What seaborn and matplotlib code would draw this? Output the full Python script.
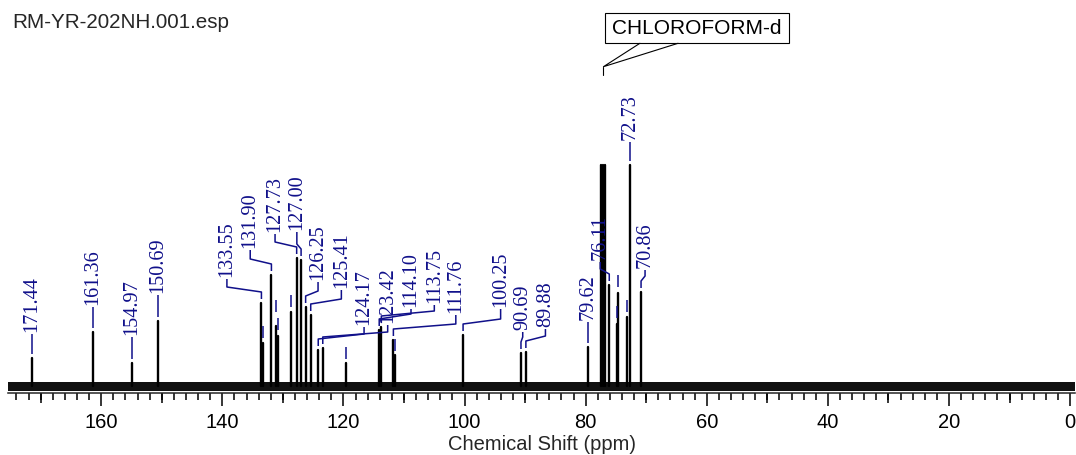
#!/usr/bin/env python3
"""13C NMR spectrum with peak labels (RM-YR-202NH)."""

import matplotlib
matplotlib.use('Agg')
import matplotlib.pyplot as plt
from matplotlib.patches import Rectangle
from matplotlib.ticker import MultipleLocator, FixedLocator, NullFormatter
import pandas as pd
import seaborn as sns

# --- data ---
# peak positions (ppm) and heights (arbitrary units, ~px above baseline)
peak_ppm = [171.44, 161.36, 154.97, 150.69, 133.55, 133.23, 131.90, 131.14,
            130.77, 128.73, 127.73, 127.00, 126.25, 125.41, 124.17, 123.42,
            119.52, 114.10, 113.75, 111.76, 111.42, 100.25, 90.69, 89.88,
            79.62, 77.48, 77.16, 76.84, 76.11, 74.89, 74.61, 73.25, 72.73,
            70.86]
peak_int = [28, 54, 23, 65, 83, 43, 111, 60,
            50, 74, 128, 126, 79, 71, 36, 38,
            23, 56, 59, 46, 31, 51, 33, 34,
            39, 221, 221, 221, 101, 62, 93, 69, 221,
            94]

# labelled peaks, plus where each label text sits (ppm, height of text start)
label_ppm = [171.44, 161.36, 154.97, 150.69, 133.55, 131.90, 127.73, 127.00,
             126.25, 125.41, 124.17, 123.42, 114.10, 113.75, 111.76, 100.25,
             90.69, 89.88, 79.62, 76.11, 72.73, 70.86]
label_x = [171.44, 161.36, 154.97, 150.69, 139.25, 135.4, 131.3, 127.7,
           124.2, 120.35, 116.6, 112.7, 108.85, 105.0, 101.45, 94.05,
           90.4, 86.65, 79.62, 77.6, 72.73, 70.2]
label_y = [54, 81, 51, 93, 109, 138, 154, 156,
           106, 98, 61, 63, 79, 83, 73, 79,
           56, 59, 66, 126, 246, 118]

# peaks whose labels are hidden (only a short blue tick is drawn)
hidden_ppm = [133.23, 131.14, 130.77, 128.73, 119.52, 111.42, 74.89, 74.61, 73.25]
hidden_y = [48, 74, 56, 79, 27, 35, 68, 99, 74]

solvent_name = 'CHLOROFORM-d'
solvent_ppm = 77.07
file_name = 'RM-YR-202NH.001.esp'

NAVY = '#10108a'
W, H = 1076, 455

sns.set_theme(style='ticks')
plt.rcParams['font.family'] = ['Liberation Sans', 'DejaVu Sans']

fig = plt.figure(figsize=(W / 100, H / 100), dpi=100)
ax = fig.add_axes([8 / W, 62 / H, 1067 / W, 393 / H])

# --- spectrum sticks ---
rows = []
for i, (p, h) in enumerate(zip(peak_ppm, peak_int)):
    rows.append({'ppm': p, 'intensity': 0, 'peak': i})
    rows.append({'ppm': p, 'intensity': h, 'peak': i})
spec = pd.DataFrame(rows)
sns.lineplot(data=spec, x='ppm', y='intensity', units='peak', estimator=None,
             sort=False, color='black', lw=1.7, ax=ax)

# noisy baseline drawn as a dark band
ax.axhspan(-4.5, 4.0, color='#111111', lw=0, zorder=1)

# --- peak labels with leaders ---
int_map = dict(zip(peak_ppm, peak_int))
for p, lx, ly in zip(label_ppm, label_x, label_y):
    h = int_map[p]
    if abs(lx - p) < 0.05:
        xs, ys = [p, p], [h + 4, ly - 2]
    else:
        xs = [p, p, lx, lx]
        ys = [h + 4, h + 11, h + 16, ly - 2]
    ax.plot(xs, ys, color=NAVY, lw=1.1, solid_capstyle='butt')
    ax.text(lx, ly, f'{p:.2f}', rotation=90, ha='center', va='bottom',
            color=NAVY, fontsize=14.6, family=['Liberation Serif', 'DejaVu Serif'])

ax.vlines(hidden_ppm, hidden_y, [y + 12 for y in hidden_y], color=NAVY, lw=1.1)

# --- solvent callout ---
ax.add_patch(Rectangle((46.4, 342.7), 30.4, 30, fill=False, ec='black', lw=0.8))
ax.text(61.6, 357.2, solvent_name, ha='center', va='center', fontsize=15, color='black')
ax.plot([71.05, solvent_ppm, 64.75], [342.7, 319.3, 342.7], color='black', lw=0.8)
ax.plot([solvent_ppm, solvent_ppm], [319.3, 311], color='black', lw=0.8)

fig.text(12 / W, 1 - 23 / H, file_name, ha='left', va='center', fontsize=14.9)

# --- axes ---
ax.set_xlim(175.4, -0.8)
ax.set_ylim(-7, 386)
ax.set_yticks([])
ax.set_ylabel('')
sns.despine(ax=ax, left=True)
ax.spines['bottom'].set_linewidth(1.1)

ax.xaxis.set_major_locator(MultipleLocator(20))
ax.xaxis.set_minor_locator(MultipleLocator(2))
ax.tick_params(axis='x', which='major', length=9.5, width=1.1, pad=5,
               labelsize=14.5, color='black', labelcolor='black')
ax.tick_params(axis='x', which='minor', length=5, width=1.1, color='black')

# medium ticks at the odd tens
sec = ax.secondary_xaxis('bottom')
sec.xaxis.set_major_locator(FixedLocator(list(range(10, 180, 20))))
sec.xaxis.set_major_formatter(NullFormatter())
sec.tick_params(axis='x', length=7, width=1.1, color='black')
sec.spines['bottom'].set_visible(False)

ax.set_xlabel('Chemical Shift (ppm)', fontsize=14.5, labelpad=2)

fig.savefig('out.png', dpi=100)
